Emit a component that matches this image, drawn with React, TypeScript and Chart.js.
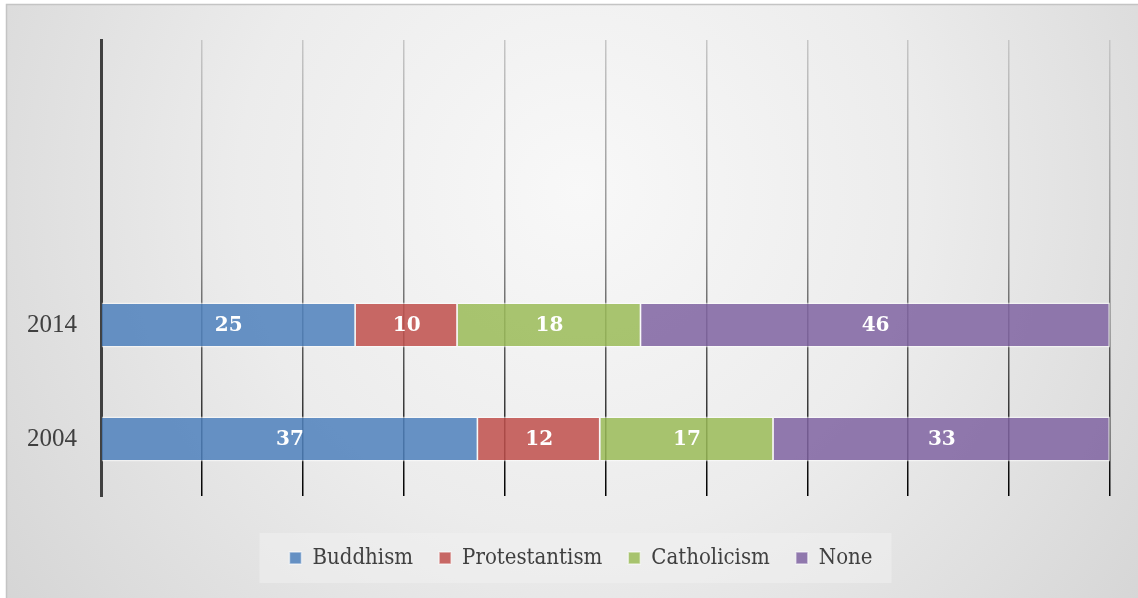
import React, { useEffect, useRef } from 'react';
import { Chart, registerables } from 'chart.js';

Chart.register(...registerables);

const years = ['2004', '2014'];
const emptyCategories = ['', ''];
const seriesNames = ['Buddhism', 'Protestantism', 'Catholicism', 'None'];
const buddhism = [37, 25];
const protestantism = [12, 10];
const catholicism = [17, 18];
const none = [33, 46];
const seriesColors = [
  'rgba(79,129,189,0.86)',
  'rgba(192,80,77,0.86)',
  'rgba(155,187,89,0.86)',
  'rgba(128,100,162,0.86)',
];
const xMin = 0;
const xMax = 100;
const xStep = 10;

const serifFamily = '"Liberation Serif", "DejaVu Serif", serif';
const legendFamily = '"DejaVu Serif Condensed", "Liberation Serif", serif';
const labelFamily = '"DejaVu Serif", "Liberation Serif", serif';

const LEGEND_SHIFT = 23;

const legendShiftPlugin = {
  id: 'legendShift',
  afterUpdate(chart: any) {
    const lg = chart.legend;
    if (!lg) return;
    lg.left += LEGEND_SHIFT;
    lg.right += LEGEND_SHIFT;
    (lg.legendHitBoxes || []).forEach((h: any) => {
      h.left += LEGEND_SHIFT;
    });
  },
};

const backgroundPlugin = {
  id: 'bgPlugin',
  beforeDraw(chart: any) {
    const { ctx, width, height } = chart;
    ctx.save();
    ctx.fillStyle = '#ffffff';
    ctx.fillRect(0, 0, width, height);
    const g = ctx.createRadialGradient(580, 190, 0, 580, 190, 760);
    g.addColorStop(0, '#f8f8f8');
    g.addColorStop(0.45, '#ececec');
    g.addColorStop(1, '#d2d2d2');
    ctx.fillStyle = g;
    ctx.fillRect(6, 4, width - 6, height - 4);
    ctx.strokeStyle = '#c4c4c4';
    ctx.lineWidth = 1.5;
    ctx.beginPath();
    ctx.moveTo(6.5, height);
    ctx.lineTo(6.5, 4.5);
    ctx.lineTo(width, 4.5);
    ctx.stroke();
    // legend box
    const lg = chart.legend;
    if (lg && lg.legendHitBoxes && lg.legendHitBoxes.length) {
      const hb = lg.legendHitBoxes;
      const left = Math.min(...hb.map((h: any) => h.left)) - 30;
      const right = Math.max(...hb.map((h: any) => h.left + h.width)) + 19;
      const cy = hb[0].top + hb[0].height / 2;
      ctx.fillStyle = 'rgba(240,240,240,0.55)';
      ctx.fillRect(left, cy - 25, right - left, 50);
    }
    ctx.restore();
  },
};

const valueLabelPlugin = {
  id: 'valueLabels',
  afterDatasetsDraw(chart: any) {
    const { ctx } = chart;
    ctx.save();
    ctx.font = `bold 20px ${labelFamily}`;
    ctx.fillStyle = '#ffffff';
    ctx.textAlign = 'center';
    ctx.textBaseline = 'middle';
    chart.data.datasets.forEach((ds: any, di: number) => {
      const meta = chart.getDatasetMeta(di);
      meta.data.forEach((el: any, i: number) => {
        const raw = ds.rawValues[i];
        if (raw === null || raw === undefined) return;
        const p = el.getCenterPoint();
        ctx.fillText(String(raw), p.x, p.y + 1);
      });
    });
    ctx.restore();
  },
};

export default function App() {
  const canvasRef = useRef<HTMLCanvasElement | null>(null);

  useEffect(() => {
    if (!canvasRef.current) return;
    const allSeries = [buddhism, protestantism, catholicism, none];
    const totals = years.map((_, i) => allSeries.reduce((s, arr) => s + arr[i], 0));
    const labels = [...years, ...emptyCategories];
    const datasets = allSeries.map((arr, si) => ({
      label: seriesNames[si],
      data: [...arr.map((v, i) => (v / totals[i]) * 100), ...emptyCategories.map(() => null)],
      rawValues: [...arr, ...emptyCategories.map(() => null)],
      backgroundColor: seriesColors[si],
      borderColor: 'rgba(255,255,255,0.55)',
      borderWidth: 1.5,
      categoryPercentage: 1,
      barPercentage: 0.395,
    }));

    const gridColor = (c: any) => {
      const chart = c.chart;
      const area = chart.chartArea;
      if (!area) return '#888888';
      const g = chart.ctx.createLinearGradient(0, area.top, 0, area.bottom);
      g.addColorStop(0, '#c6c6c6');
      g.addColorStop(0.45, '#8e8e8e');
      g.addColorStop(0.8, '#3a3a3a');
      g.addColorStop(1, '#000000');
      return g;
    };

    const chart = new Chart(canvasRef.current, {
      type: 'bar',
      data: { labels, datasets: datasets as any },
      options: {
        indexAxis: 'y',
        animation: false,
        responsive: true,
        maintainAspectRatio: false,
        layout: { padding: { left: 6, top: 40, right: 28, bottom: 19 } },
        plugins: {
          tooltip: { enabled: false },
          legend: {
            position: 'bottom',
            labels: {
              boxWidth: 12,
              boxHeight: 12,
              padding: 26,
              color: '#404040',
              font: { family: legendFamily, size: 22 },
            },
          },
        },
        scales: {
          x: {
            stacked: true,
            min: xMin,
            max: xMax,
            ticks: { display: false, stepSize: xStep },
            grid: { color: gridColor as any, lineWidth: 1.5, drawTicks: false },
            border: { display: false },
            afterFit: (scale: any) => {
              scale.height = 25;
            },
          },
          y: {
            stacked: true,
            reverse: true,
            ticks: {
              color: '#404040',
              padding: 16,
              font: { family: serifFamily, size: 25 },
            },
            grid: { display: false },
            border: { display: true, color: '#404040', width: 3 },
            afterFit: (scale: any) => {
              scale.width = 95;
            },
          },
        },
      },
      plugins: [legendShiftPlugin, backgroundPlugin, valueLabelPlugin],
    });
    return () => chart.destroy();
  }, []);

  return (
    <div style={{ position: 'fixed', left: 0, top: 0, width: 1138, height: 598 }}>
      <canvas ref={canvasRef} />
    </div>
  );
}
